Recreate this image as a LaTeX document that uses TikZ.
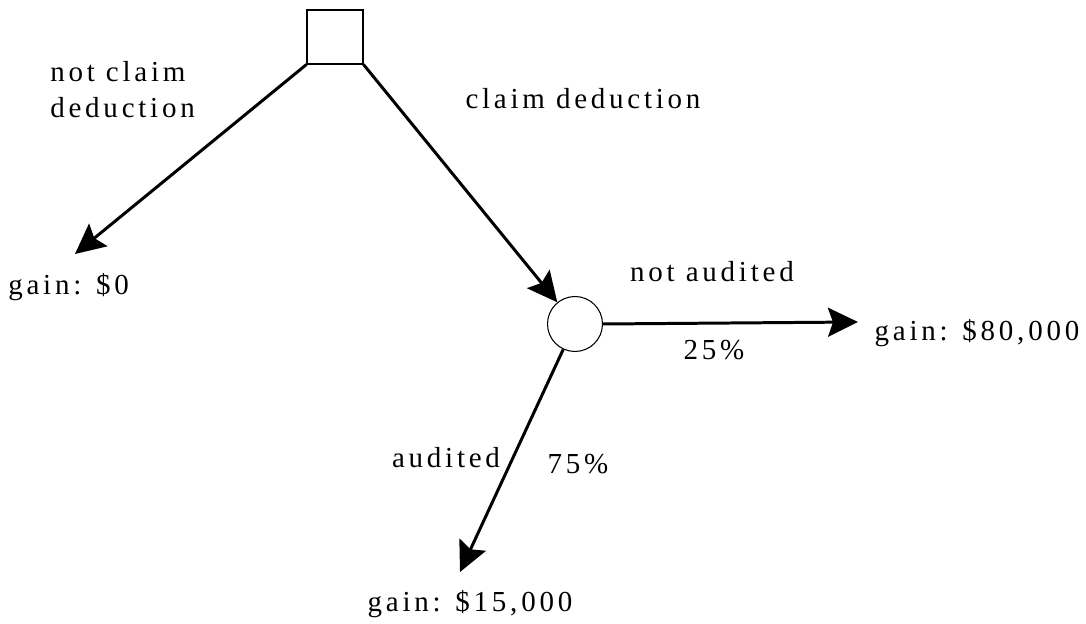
\documentclass[tikz,border=0pt]{standalone}
\usepackage{fontspec}
\setmainfont{Liberation Serif}[LetterSpace=13]
\usetikzlibrary{arrows.meta}

\tikzset{
  decision/.style={draw, line width=0.6pt, minimum width=1.12cm, minimum height=1.08cm, inner sep=0pt},
  chance/.style={draw, circle, line width=0.6pt, minimum size=1.1cm, inner sep=0pt},
  branch/.style={line width=1.7pt, -{Stealth[length=0.6cm, width=0.58cm, inset=0.1cm]}},
  lbl/.style={font=\fontsize{16.5}{20.5}\selectfont, inner sep=0pt, anchor=base}
}

\begin{document}
\begin{tikzpicture}[x=0.02cm, y=-0.02cm]
    \useasboundingbox (0,0) rectangle (1086,624);

    % Decision and chance nodes
    \node[decision] (dec) at (335,37) {};
    \node[chance] (ch) at (575,324) {};

    % End points of the branches
    \coordinate (end0) at (75,254);
    \coordinate (end80) at (858,322);
    \coordinate (end15) at (460,572);

    % Branches
    \draw[branch] (dec.south west) -- (end0);
    \draw[branch] (dec.south east) -- (ch);
    \draw[branch] (ch.east) -- (end80);
    \draw[branch] (ch) -- (end15);

    % Labels
    \node[lbl, anchor=base west] (notclaim) at (50,82) {not claim};
    \node[lbl, anchor=base west] (deduct) at (50,118) {deduction};
    \node[lbl] (claim) at (583,109) {claim deduction};
    \node[lbl, anchor=base west] (gain0) at (8,295) {gain: \$0};
    \node[lbl] (notaud) at (712,282) {not audited};
    \node[lbl] (p25) at (714,360) {25\%};
    \node[lbl] (gain80) at (977,341) {gain: \$80,000};
    \node[lbl] (aud) at (446,468) {audited};
    \node[lbl] (p75) at (578,474) {75\%};
    \node[lbl] (gain15) at (470,612) {gain: \$15,000};
\end{tikzpicture}
\end{document}
